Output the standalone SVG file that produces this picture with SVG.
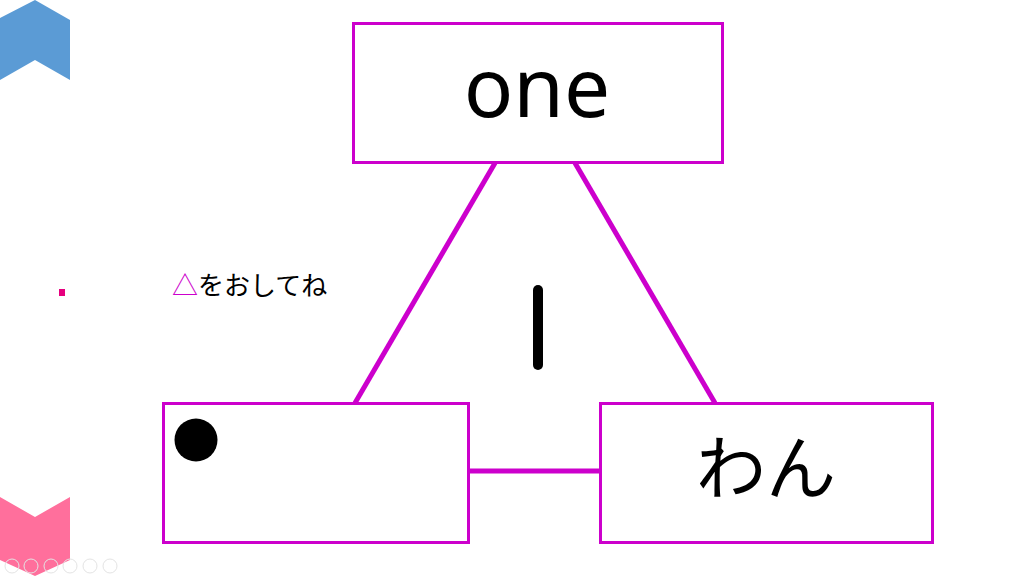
<svg xmlns="http://www.w3.org/2000/svg" width="1024" height="576" viewBox="0 0 1024 576">
<style>
.box{fill:#fff;stroke:#CC00CC;stroke-width:3}
.conn{stroke:#CC00CC;stroke-width:5;fill:none}
.ctl{fill:none;stroke:#e4e4e4;stroke-width:1}
</style>
<rect width="1024" height="576" fill="#fff"/>
<polygon points="0,18 35,0 70,20 70,80 35,60 0,80" fill="#5B9BD5"/>
<polygon points="0,497 35,517 70,497 70,560 35,576 0,560" fill="#FF6F9C"/>
<rect x="59" y="289" width="6" height="7" fill="#E6007E"/>
<g id="controls">
<circle class="ctl" cx="12" cy="566" r="7"/>
<circle class="ctl" cx="31" cy="566" r="7"/>
<circle class="ctl" cx="51" cy="566" r="7"/>
<circle class="ctl" cx="70" cy="566" r="7"/>
<circle class="ctl" cx="90" cy="566" r="7"/>
<circle class="ctl" cx="110" cy="566" r="7"/>
</g>
<g id="connectors">
<line class="conn" x1="495" y1="163" x2="355" y2="403"/>
<line class="conn" x1="575" y1="163" x2="715" y2="403"/>
<line class="conn" x1="468" y1="471" x2="600" y2="471"/>
</g>
<g id="node-one">
<rect class="box" x="353.5" y="23.5" width="369" height="139"/>
<text x="537" y="117" text-anchor="middle" font-family="Noto Sans, sans-serif" font-size="82">one</text>
</g>
<g id="node-dot">
<rect class="box" x="163.5" y="403.5" width="305" height="139"/>
<circle cx="196" cy="440" r="21.5" fill="#000"/>
</g>
<g id="node-wan">
<rect class="box" x="600.5" y="403.5" width="332" height="139"/>
<text x="766" y="494" text-anchor="middle" font-family="Noto Sans CJK JP, sans-serif" font-size="70">わん</text>
</g>
<line x1="538" y1="290" x2="538" y2="365" stroke="#000" stroke-width="10" stroke-linecap="round"/>
<text x="172" y="295" font-family="Noto Sans CJK JP, sans-serif" font-size="26"><tspan fill="#CC00CC">△</tspan><tspan fill="#000">をおしてね</tspan></text>
</svg>
